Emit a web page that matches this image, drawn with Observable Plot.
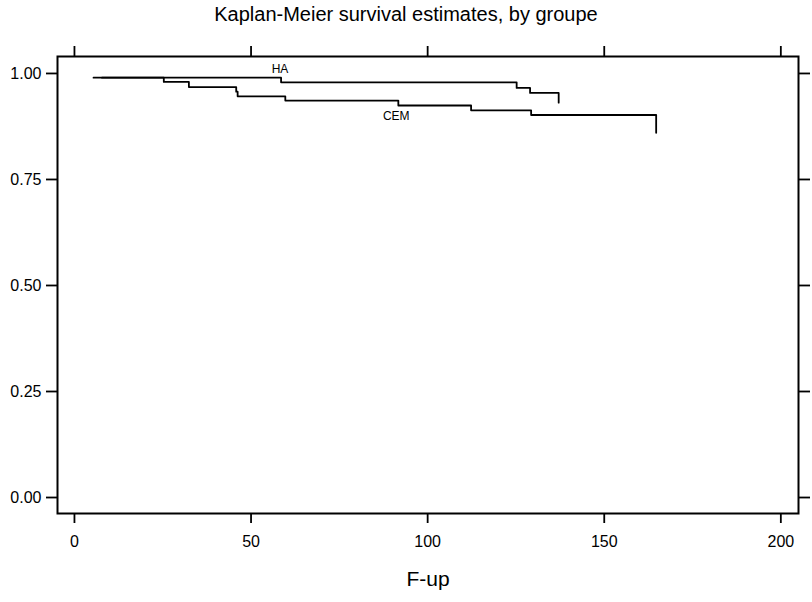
<!DOCTYPE html>
<html>
<head>
<meta charset="utf-8">
<script src="https://cdn.jsdelivr.net/npm/d3@7"></script>
<script src="https://cdn.jsdelivr.net/npm/@observablehq/plot@0.6"></script>
<style>
  body { margin: 0; background: #fff; font-family: "Liberation Sans", Arial, sans-serif; }
  #title { width: 812px; height: 28px; line-height: 28px; text-align: center; font-size: 20px; color: #000; }
</style>
</head>
<body>
<div id="title">Kaplan-Meier survival estimates, by groupe</div>
<div id="chart"></div>
<script>
// Group HA
const haTime = [7.8, 58.5, 125.2, 129.0, 137.1];
const haSurv = [0.990, 0.979, 0.966, 0.954, 0.931];
// Group CEM
const cemTime = [5.4, 25.3, 32.4, 45.8, 46.2, 59.7, 91.7, 112.3, 129.3, 164.7];
const cemSurv = [0.990, 0.980, 0.968, 0.957, 0.946, 0.936, 0.9245, 0.913, 0.902, 0.860];
// Curve labels
const curveLabels = [
  {group: "HA", t: 58.2, s: 1.011},
  {group: "CEM", t: 91.1, s: 0.900}
];
const xTicks = [0, 50, 100, 150, 200];
const yTicks = [0, 0.25, 0.5, 0.75, 1];

const ha = haTime.map((t, i) => ({group: "HA", t, s: haSurv[i]}));
const cem = cemTime.map((t, i) => ({group: "CEM", t, s: cemSurv[i]}));

const chart = Plot.plot({
  width: 812,
  height: 574,
  marginLeft: 57,
  marginRight: 14,
  marginTop: 28,
  marginBottom: 89,
  style: {fontFamily: "'Liberation Sans', Arial, sans-serif", fontSize: "16px", color: "#000", background: "#fff"},
  x: {domain: [-4.8, 205]},
  y: {domain: [-0.0377, 1.040]},
  marks: [
    Plot.frame({stroke: "#000", strokeWidth: 2}),
    Plot.axisX({anchor: "bottom", ticks: xTicks, tickSize: 10, tickPadding: 12, strokeWidth: 1.8, label: null, fontSize: 16}),
    Plot.axisX({anchor: "top", ticks: xTicks, tickSize: 11, tickFormat: () => "", strokeWidth: 1.8, label: null}),
    Plot.axisY({anchor: "left", ticks: yTicks, tickSize: 11, tickPadding: 5, tickFormat: d3.format(".2f"), strokeWidth: 1.8, label: null, fontSize: 16}),
    Plot.axisY({anchor: "right", ticks: yTicks, tickSize: 11, tickFormat: () => "", strokeWidth: 1.8, label: null}),
    Plot.line(ha, {x: "t", y: "s", curve: "step-after", stroke: "#000", strokeWidth: 1.8}),
    Plot.line(cem, {x: "t", y: "s", curve: "step-after", stroke: "#000", strokeWidth: 1.8}),
    Plot.text(curveLabels, {x: "t", y: "s", text: "group", fontSize: 12, fill: "#000"}),
    Plot.text(["F-up"], {frameAnchor: "bottom", dy: 66, fontSize: 21, fill: "#000", lineAnchor: "middle"})
  ]
});
document.getElementById("chart").appendChild(chart);
</script>
</body>
</html>
